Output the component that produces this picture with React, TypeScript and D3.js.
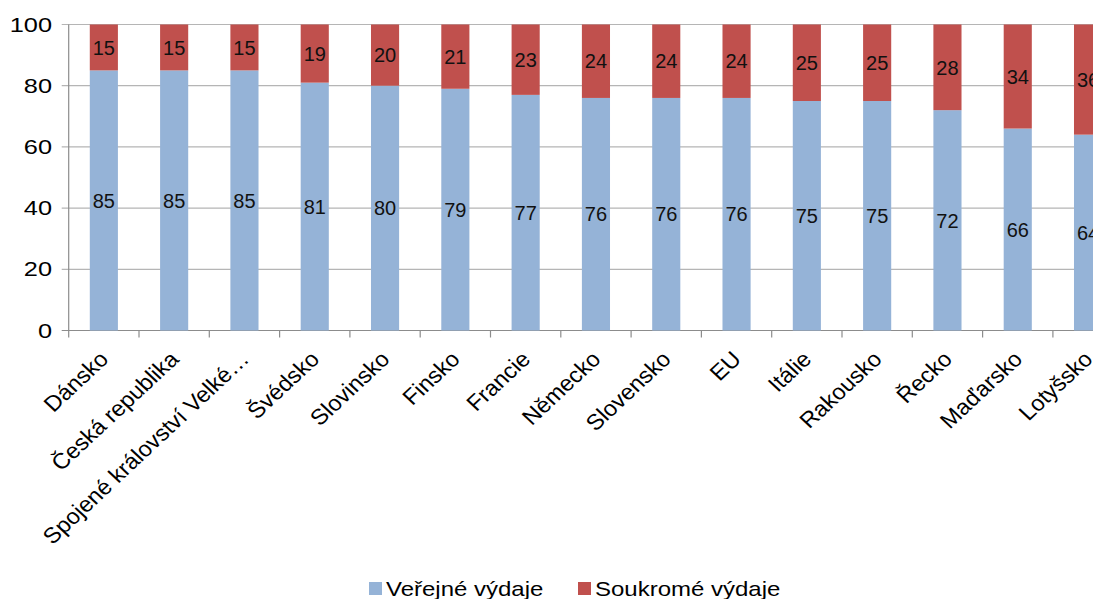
import React, { useEffect, useRef } from "react";
import * as d3 from "d3";

const countries = [
  "Dánsko",
  "Česká republika",
  "Spojené království Velké…",
  "Švédsko",
  "Slovinsko",
  "Finsko",
  "Francie",
  "Německo",
  "Slovensko",
  "EU",
  "Itálie",
  "Rakousko",
  "Řecko",
  "Maďarsko",
  "Lotyšsko",
];
const publicSpend = [85, 85, 85, 81, 80, 79, 77, 76, 76, 76, 75, 75, 72, 66, 64];
const privateSpend = [15, 15, 15, 19, 20, 21, 23, 24, 24, 24, 25, 25, 28, 34, 36];
const yTicks = [0, 20, 40, 60, 80, 100];
const seriesNames = ["Veřejné výdaje", "Soukromé výdaje"];

const width = 1093;
const height = 599;
const font = "'Liberation Sans', Arial, sans-serif";
const blue = "#95b3d7";
const red = "#c0504d";

const App = () => {
  const ref = useRef<SVGSVGElement>(null);

  useEffect(() => {
    const svg = d3.select(ref.current);
    svg.selectAll("*").remove();

    const left = 68.7;
    const step = 70.3;
    const top = 24.5;
    const bottom = 330.5;

    const x = d3.scaleBand<string>()
      .domain(countries)
      .range([left, left + step * countries.length])
      .paddingInner(0.6)
      .paddingOuter(0.3);
    const y = d3.scaleLinear().domain([0, 100]).range([bottom, top]);

    // grid + y ticks
    const grid = svg.append("g");
    yTicks.forEach((t) => {
      grid.append("line")
        .attr("x1", left - 7)
        .attr("x2", width)
        .attr("y1", y(t))
        .attr("y2", y(t))
        .attr("stroke", t === 0 ? "#8c8c8c" : "#b5b5b5")
        .attr("stroke-width", 1.2);
      svg.append("text")
        .attr("transform", "translate(52," + y(t) + ") scale(1.3,1)")
        .attr("text-anchor", "end")
        .attr("dy", "0.36em")
        .style("font-family", font)
        .style("font-size", "19.5px")
        .attr("fill", "#000")
        .text(t);
    });

    // y axis line
    svg.append("line")
      .attr("x1", left).attr("x2", left)
      .attr("y1", top).attr("y2", bottom + 7)
      .attr("stroke", "#8c8c8c").attr("stroke-width", 1.2);

    // x ticks at band boundaries
    for (let i = 1; i <= countries.length; i++) {
      const xx = left + step * i;
      svg.append("line")
        .attr("x1", xx).attr("x2", xx)
        .attr("y1", bottom).attr("y2", bottom + 7)
        .attr("stroke", "#8c8c8c").attr("stroke-width", 1.2);
    }

    const bars = svg.append("g");
    countries.forEach((c, i) => {
      const bx = x(c) as number;
      const bw = x.bandwidth();
      const pub = publicSpend[i];
      const priv = privateSpend[i];
      bars.append("rect")
        .attr("x", bx).attr("width", bw)
        .attr("y", y(pub)).attr("height", y(0) - y(pub))
        .attr("fill", blue);
      bars.append("rect")
        .attr("x", bx).attr("width", bw)
        .attr("y", y(pub + priv)).attr("height", y(pub) - y(pub + priv))
        .attr("fill", red);
      bars.append("text")
        .attr("x", bx + bw / 2)
        .attr("y", y(pub / 2))
        .attr("dy", "0.36em")
        .attr("text-anchor", "middle")
        .style("font-family", font)
        .style("font-size", "20px")
        .attr("fill", "#111")
        .text(pub);
      bars.append("text")
        .attr("x", bx + bw / 2)
        .attr("y", y(pub + priv / 2))
        .attr("dy", "0.36em")
        .attr("text-anchor", "middle")
        .style("font-family", font)
        .style("font-size", "20px")
        .attr("fill", "#111")
        .text(priv);

      // category label
      svg.append("text")
        .attr("transform", "translate(" + (bx + bw / 2 + 6) + "," + (bottom + 30) + ") scale(1.07,1) rotate(-45)")
        .attr("text-anchor", "end")
        .style("font-family", font)
        .style("font-size", "22px")
        .attr("fill", "#000")
        .text(c);
    });

    // legend
    const legendX = [369, 578];
    const colors = [blue, red];
    seriesNames.forEach((name, i) => {
      svg.append("rect")
        .attr("x", legendX[i]).attr("y", 582)
        .attr("width", 13).attr("height", 13)
        .attr("fill", colors[i]);
      svg.append("text")
        .attr("transform", "translate(" + (legendX[i] + 17) + ",596) scale(1.2,1)")
        .style("font-family", font)
        .style("font-size", "20px")
        .attr("fill", "#000")
        .text(name);
    });
  }, []);

  return (
    <svg
      ref={ref}
      width={width}
      height={height}
      style={{ position: "absolute", left: 0, top: 0, background: "#fff", overflow: "hidden" }}
    />
  );
};

export default App;
